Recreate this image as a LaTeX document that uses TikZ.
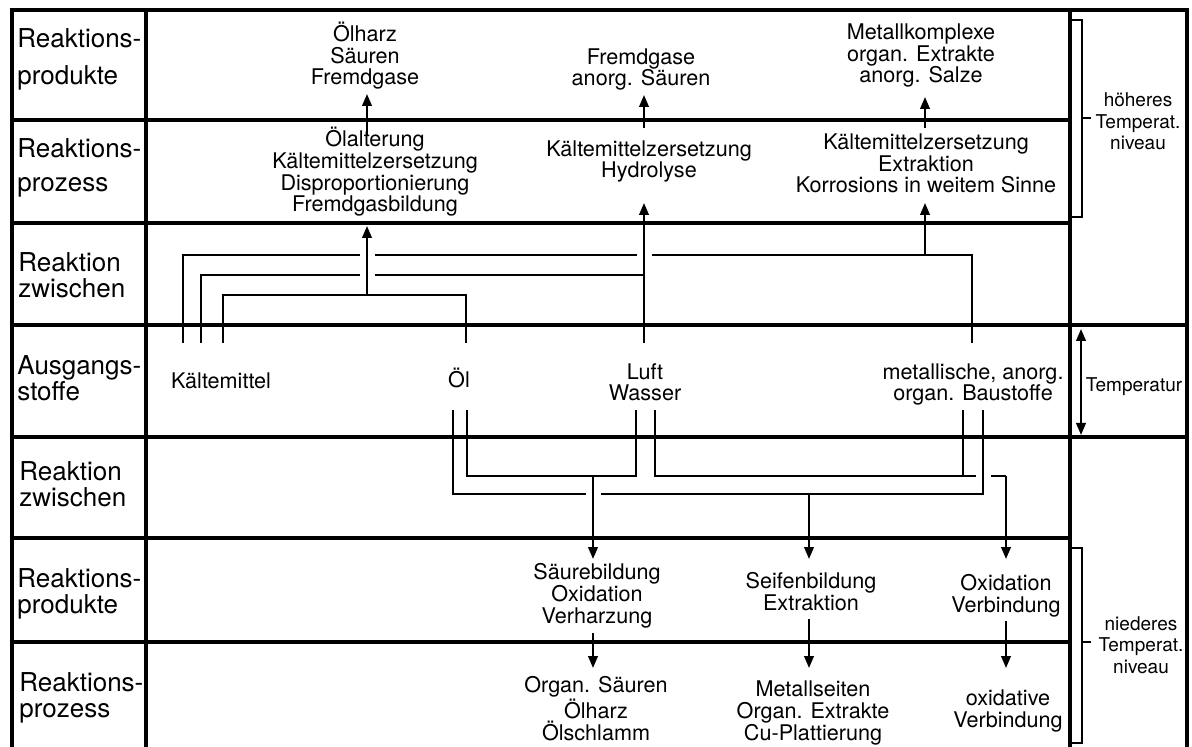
\documentclass[tikz,border=0pt]{standalone}
\usepackage{fontspec}
\setmainfont{TeX Gyre Heros}
\usetikzlibrary{calc,arrows.meta}
\def\bruecke(#1){\draw[white, line width=2.4pt] ($(#1)+(-7.5,0)$) -- ($(#1)+(7.5,0)$);}
\tikzset{
	gitter/.style={line width=1.65pt},
	leitung/.style={line width=1.1pt},
	pfeil/.style={line width=1.1pt, -{Triangle[length=6pt,width=4.8pt]}},
	doppelpfeil/.style={line width=1.1pt, {Triangle[length=6pt,width=4.8pt]}-{Triangle[length=6pt,width=4.8pt]}},
	klammer/.style={line width=0.75pt},
	zeile/.style={anchor=base west, align=left, inner sep=0pt, font=\fontsize{13}{13}\selectfont},
	eintrag/.style={anchor=base, align=center, inner sep=0pt, font=\fontsize{10.8}{10.85}\selectfont},
	seite/.style={anchor=base, align=center, inner sep=0pt, font=\fontsize{9.5}{10.75}\selectfont},
}

\begin{document}
\begin{tikzpicture}[x=0.5pt, y=-0.5pt]
		%%%%% START %%%%%
		\useasboundingbox (0,0) rectangle (1192,747);
		
		% Raster
		\draw[gitter] (12,747) -- (12,10) -- (1187,10) -- (1187,747);
		\draw[gitter] (146,10) -- (146,747);
		\draw[gitter] (1070,10) -- (1070,747);
		\draw[gitter] (12,120) -- (1070,120);
		\draw[gitter] (12,223) -- (1070,223);
		\draw[gitter] (12,325) -- (1187,325);
		\draw[gitter] (12,437) -- (1187,437);
		\draw[gitter] (12,538) -- (1070,538);
		\draw[gitter] (12,642) -- (1070,642);
		
		% Zeilenbeschriftung (base = letzte Zeile)
		\node[zeile] (r1) at (17,85) {Reaktions-\\[5.5pt]produkte};
		\node[zeile] (r2) at (17,192) {Reaktions-\\[4pt]prozess};
		\node[zeile] (r3) at (18,298) {Reaktion\\zwischen};
		\node[zeile] (r4) at (17,401) {Ausgangs-\\stoffe};
		\node[zeile] (r5) at (19,507) {Reaktion\\zwischen};
		\node[zeile] (r6) at (17,613) {Reaktions-\\produkte};
		\node[zeile] (r7) at (19,717) {Reaktions-\\prozess};
		
		% oben
		\node[eintrag] (p1a) at (365,85) {Ölharz\\Säuren\\Fremdgase};
		\node[eintrag] (p1b) at (641,86) {Fremdgase\\anorg. Säuren};
		\node[eintrag] (p1c) at (921,83) {Metallkomplexe\\organ. Extrakte\\anorg. Salze};
		\node[eintrag] (p2a) at (375,212) {Ölalterung\\Kältemittelzersetzung\\Disproportionierung\\Fremdgasbildung};
		\node[eintrag] (p2b) at (649,178) {Kältemittelzersetzung\\Hydrolyse};
		\node[eintrag] (p2c) at (926,193) {Kältemittelzersetzung\\Extraktion\\Korrosions in weitem Sinne};
		
		% Ausgangsstoffe
		\node[eintrag] (kaelte) at (221,389) {Kältemittel};
		\node[eintrag] (oel) at (459,388) {Öl};
		\node[eintrag] (luft) at (645,401) {Luft\\Wasser};
		\node[eintrag] (metall) at (973,401) {metallische, anorg.\\organ. Baustoffe};
		
		% unten
		\node[eintrag] (u1a) at (597,623) {Säurebildung\\Oxidation\\Verharzung};
		\node[eintrag] (u1b) at (811,610) {Seifenbildung\\Extraktion};
		\node[eintrag] (u1c) at (1006,612) {Oxidation\\Verbindung};
		\node[eintrag] (u2a) at (596,740) {Organ. Säuren\\Ölharz\\Ölschlamm};
		\node[eintrag] (u2b) at (813,740) {Metallseiten\\Organ. Extrakte\\Cu-Plattierung};
		\node[eintrag] (u2c) at (1008,727) {oxidative\\Verbindung};
		
		% rechte Spalte
		\node[seite] (hoeher) at (1138,150) {höheres\\Temperat.\\niveau};
		\node[seite] (temp) at (1134,392) {Temperatur};
		\node[seite] (nieder) at (1141,673) {niederes\\Temperat.\\niveau};
		
		\draw[klammer] (1070,20) -- (1082,20) -- (1082,217) -- (1070,217);
		\draw[klammer] (1082,118) -- (1091,118);
		\draw[klammer] (1070,548) -- (1082,548) -- (1082,743) -- (1070,743);
		\draw[klammer] (1082,642) -- (1091,642);
		\coordinate (t1) at (1081,329);
		\coordinate (t2) at (1081,435);
		\draw[doppelpfeil] (t1) -- (t2);
		
		% Reaktion zwischen (oben)
		\coordinate (k1) at (183,343);
		\coordinate (k2) at (201,343);
		\coordinate (k3) at (223,343);
		\coordinate (o1) at (466,343);
		\coordinate (l1) at (644,343);
		\coordinate (m1) at (972,343);
		\coordinate (v1) at (367,295);
		\coordinate (v2) at (644,275);
		\coordinate (v3) at (925,255);
		\coordinate (x1) at (367,255);
		\coordinate (x2) at (367,275);
		\coordinate (x3) at (644,255);
		\coordinate (e1) at (367,226);
		\coordinate (e2) at (644,203);
		\coordinate (e3) at (925,203);
		
		\draw[leitung] (k1) |- (v3) -| (m1);
		\draw[leitung] (k2) |- (v2);
		\draw[leitung] (k3) |- (v1) -| (o1);
		\bruecke(x1)
		\bruecke(x2)
		\bruecke(x3)
		\draw[pfeil] (v1) -- (e1);
		\draw[pfeil] (l1) -- (e2);
		\draw[pfeil] (v3) -- (e3);
		
		\coordinate (f1) at (367,135);
		\coordinate (f2) at (644,128);
		\coordinate (f3) at (925,128);
		\coordinate (g1) at (367,94);
		\coordinate (g2) at (644,95);
		\coordinate (g3) at (925,97);
		\draw[pfeil] (f1) -- (g1);
		\draw[pfeil] (f2) -- (g2);
		\draw[pfeil] (f3) -- (g3);
		
		% Reaktion zwischen (unten)
		\coordinate (o2) at (453,410);
		\coordinate (o3) at (467,410);
		\coordinate (l2) at (636,410);
		\coordinate (w1) at (655,410);
		\coordinate (m2) at (963,410);
		\coordinate (m3) at (983,410);
		\coordinate (u1) at (593,476);
		\coordinate (u2) at (809,494);
		\coordinate (u3) at (1006,476);
		\coordinate (x4) at (983,476);
		\coordinate (x5) at (593,494);
		\coordinate (n1) at (593,559);
		\coordinate (n2) at (809,559);
		\coordinate (n3) at (1006,559);
		
		\draw[leitung] (w1) |- (u3);
		\draw[leitung] (m2) -- (m2 |- u3);
		\bruecke(x4)
		\draw[leitung] (o2) |- (u2) -| (m3);
		\bruecke(x5)
		\draw[leitung] (o3) |- (u1) -| (l2);
		\draw[pfeil] (u1) -- (n1);
		\draw[pfeil] (u2) -- (n2);
		\draw[pfeil] (u3) -- (n3);
		
		\coordinate (h1) at (593,633);
		\coordinate (h2) at (809,619);
		\coordinate (h3) at (1006,621);
		\coordinate (i1) at (593,668);
		\coordinate (i2) at (809,668);
		\coordinate (i3) at (1006,668);
		\draw[pfeil] (h1) -- (i1);
		\draw[pfeil] (h2) -- (i2);
		\draw[pfeil] (h3) -- (i3);
		%%%%% END %%%%%
	\end{tikzpicture}
\end{document}
